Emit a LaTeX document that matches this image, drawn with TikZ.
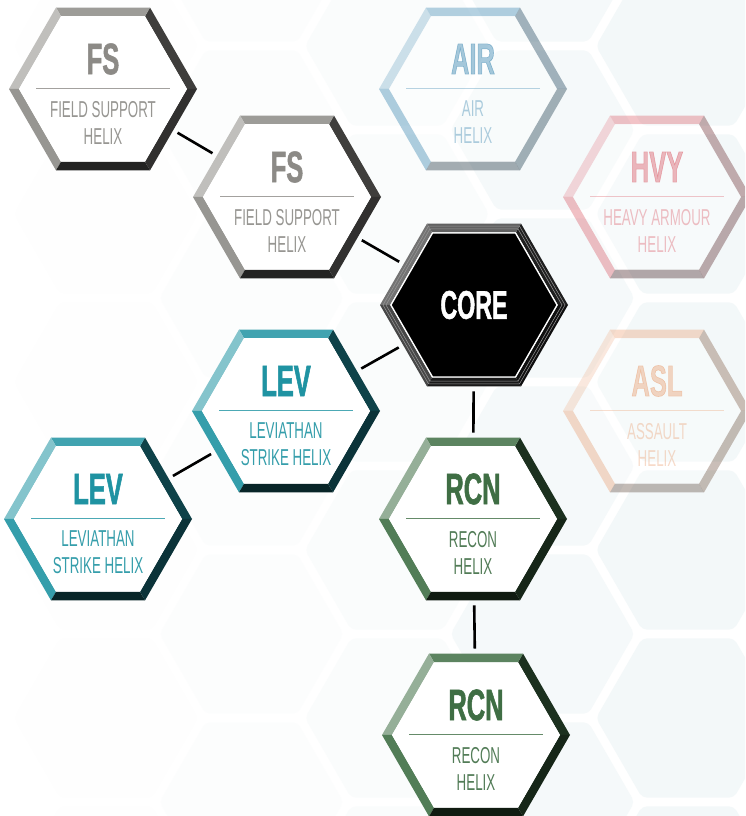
\documentclass[tikz,border=0pt]{standalone}
\usepackage{fontspec}
\usepackage{tikz}
\usetikzlibrary{calc}
\usetikzlibrary{shapes.geometric}

\newfontfamily\helixhead[FakeStretch=0.58,FakeBold=1.2]{Liberation Sans}
\newfontfamily\helixsub[FakeStretch=0.58]{Liberation Sans}

\definecolor{fscol}{HTML}{8C8A86}
\definecolor{levcol}{HTML}{1F93A2}
\definecolor{rcncol}{HTML}{3F6E44}
\definecolor{aircol}{HTML}{04659B}
\definecolor{hvycol}{HTML}{D43745}
\definecolor{aslcol}{HTML}{E47A3A}
\definecolor{bgcell}{HTML}{F3F8F9}

\begin{document}
\begin{tikzpicture}[x=1pt,y=1pt,
  hexnode/.style={regular polygon, regular polygon sides=6, minimum size=188pt,
    inner sep=0pt, outer sep=0pt},
  hexhead/.style={font=\helixhead\bfseries\fontsize{44}{44}\selectfont, inner sep=0pt},
  hexsub/.style={font=\helixsub\fontsize{23}{27}\selectfont, align=center, inner sep=0pt},
  link/.style={line width=2.6pt, shorten <=5pt, shorten >=5pt}]

  \useasboundingbox (0,0) rectangle (745,816);
  \clip (0,0) rectangle (745,816);
  \fill[white] (0,0) rectangle (745,816);

  % faint honeycomb behind, fading to the left
  \foreach \cx/\op/\dy in {688/1/0, 542.5/0.8/84, 397/0.4/0, 251.5/0.2/84, 106/0.05/0}
    \foreach \cy in {-70,98,...,938}
      \fill[bgcell, fill opacity=\op, rounded corners=5pt]
        (\cx+92,\cy+\dy) -- ++(120:92) -- ++(180:92) -- ++(240:92)
          -- ++(300:92) -- ++(0:92) -- cycle;

  % name, centre, colour, opacity, title, subtitle
  \def\helix#1#2#3#4#5#6{
    \node[hexnode] (#1) at (#2) {};
    \begin{scope}[opacity=#4]
      \colorlet{hexc}{#3}
      \foreach \a/\c in {0/hexc!45!black, 60/hexc!85!white, 120/hexc!55!white,
                         180/hexc!90!white, 240/hexc!25!black, 300/hexc!35!black}
        \fill[fill=\c] ($(#1)+(\a:94)$) -- ($(#1)+(\a+60:94)$)
          -- ($(#1)+(\a+60:84)$) -- ($(#1)+(\a:84)$) -- cycle;
      \fill[white] ($(#1)+(0:84)$) \foreach \a in {60,120,...,300} { -- ($(#1)+(\a:84)$) } -- cycle;
      \node[hexhead, text=hexc] (#1-t) at ($(#1)+(0,30)$) {#5};
      \draw[hexc!80!white, line width=1pt] ($(#1)+(-67,0)$) -- ($(#1)+(67,0)$);
      \node[hexsub, text=hexc!90!white] (#1-s) at ($(#1)+(0,-33.5)$) {#6};
    \end{scope}
  }

  \helix{fsa}{103,727}{fscol}{1}{FS}{FIELD SUPPORT\\HELIX}
  \helix{fsb}{287,619}{fscol}{1}{FS}{FIELD SUPPORT\\HELIX}
  \helix{air}{473,727}{aircol}{0.35}{AIR}{AIR\\HELIX}
  \helix{hvy}{657,619}{hvycol}{0.35}{HVY}{HEAVY ARMOUR\\HELIX}
  \helix{asl}{657,405}{aslcol}{0.3}{ASL}{ASSAULT\\HELIX}
  \helix{levb}{286,405}{levcol}{1}{LEV}{LEVIATHAN\\STRIKE HELIX}
  \helix{leva}{98,297}{levcol}{1}{LEV}{LEVIATHAN\\STRIKE HELIX}
  \helix{rcna}{473,297}{rcncol}{1}{RCN}{RECON\\HELIX}
  \helix{rcnb}{476,81}{rcncol}{1}{RCN}{RECON\\HELIX}

  % the core
  \node[hexnode] (core) at (474,511) {};
  \foreach \a/\c in {0/black!88, 60/black!62, 120/black!55, 180/black!72, 240/black!90, 300/black!94}
    \fill[fill=\c] ($(core)+(\a:94)$) -- ($(core)+(\a+60:94)$)
      -- ($(core)+(\a+60:84)$) -- ($(core)+(\a:84)$) -- cycle;
  \foreach \r in {91,88}
    \draw[black!40, line width=0.5pt] ($(core)+(0:\r)$)
      \foreach \a in {60,120,...,300} { -- ($(core)+(\a:\r)$) } -- cycle;
  \draw[white, fill=black, line width=1.2pt] ($(core)+(0:83)$)
    \foreach \a in {60,120,...,300} { -- ($(core)+(\a:83)$) } -- cycle;
  \node[font=\helixhead\bfseries\fontsize{40}{40}\selectfont, text=white, inner sep=0pt]
    (core-t) at (core) {CORE};

  % links
  \draw[link] (fsa) -- (fsb);
  \draw[link] (fsb) -- (core);
  \draw[link] (levb) -- (core);
  \draw[link] (leva) -- (levb);
  \draw[link] (core) -- (rcna);
  \draw[link] (rcna) -- (rcnb);

\end{tikzpicture}
\end{document}
